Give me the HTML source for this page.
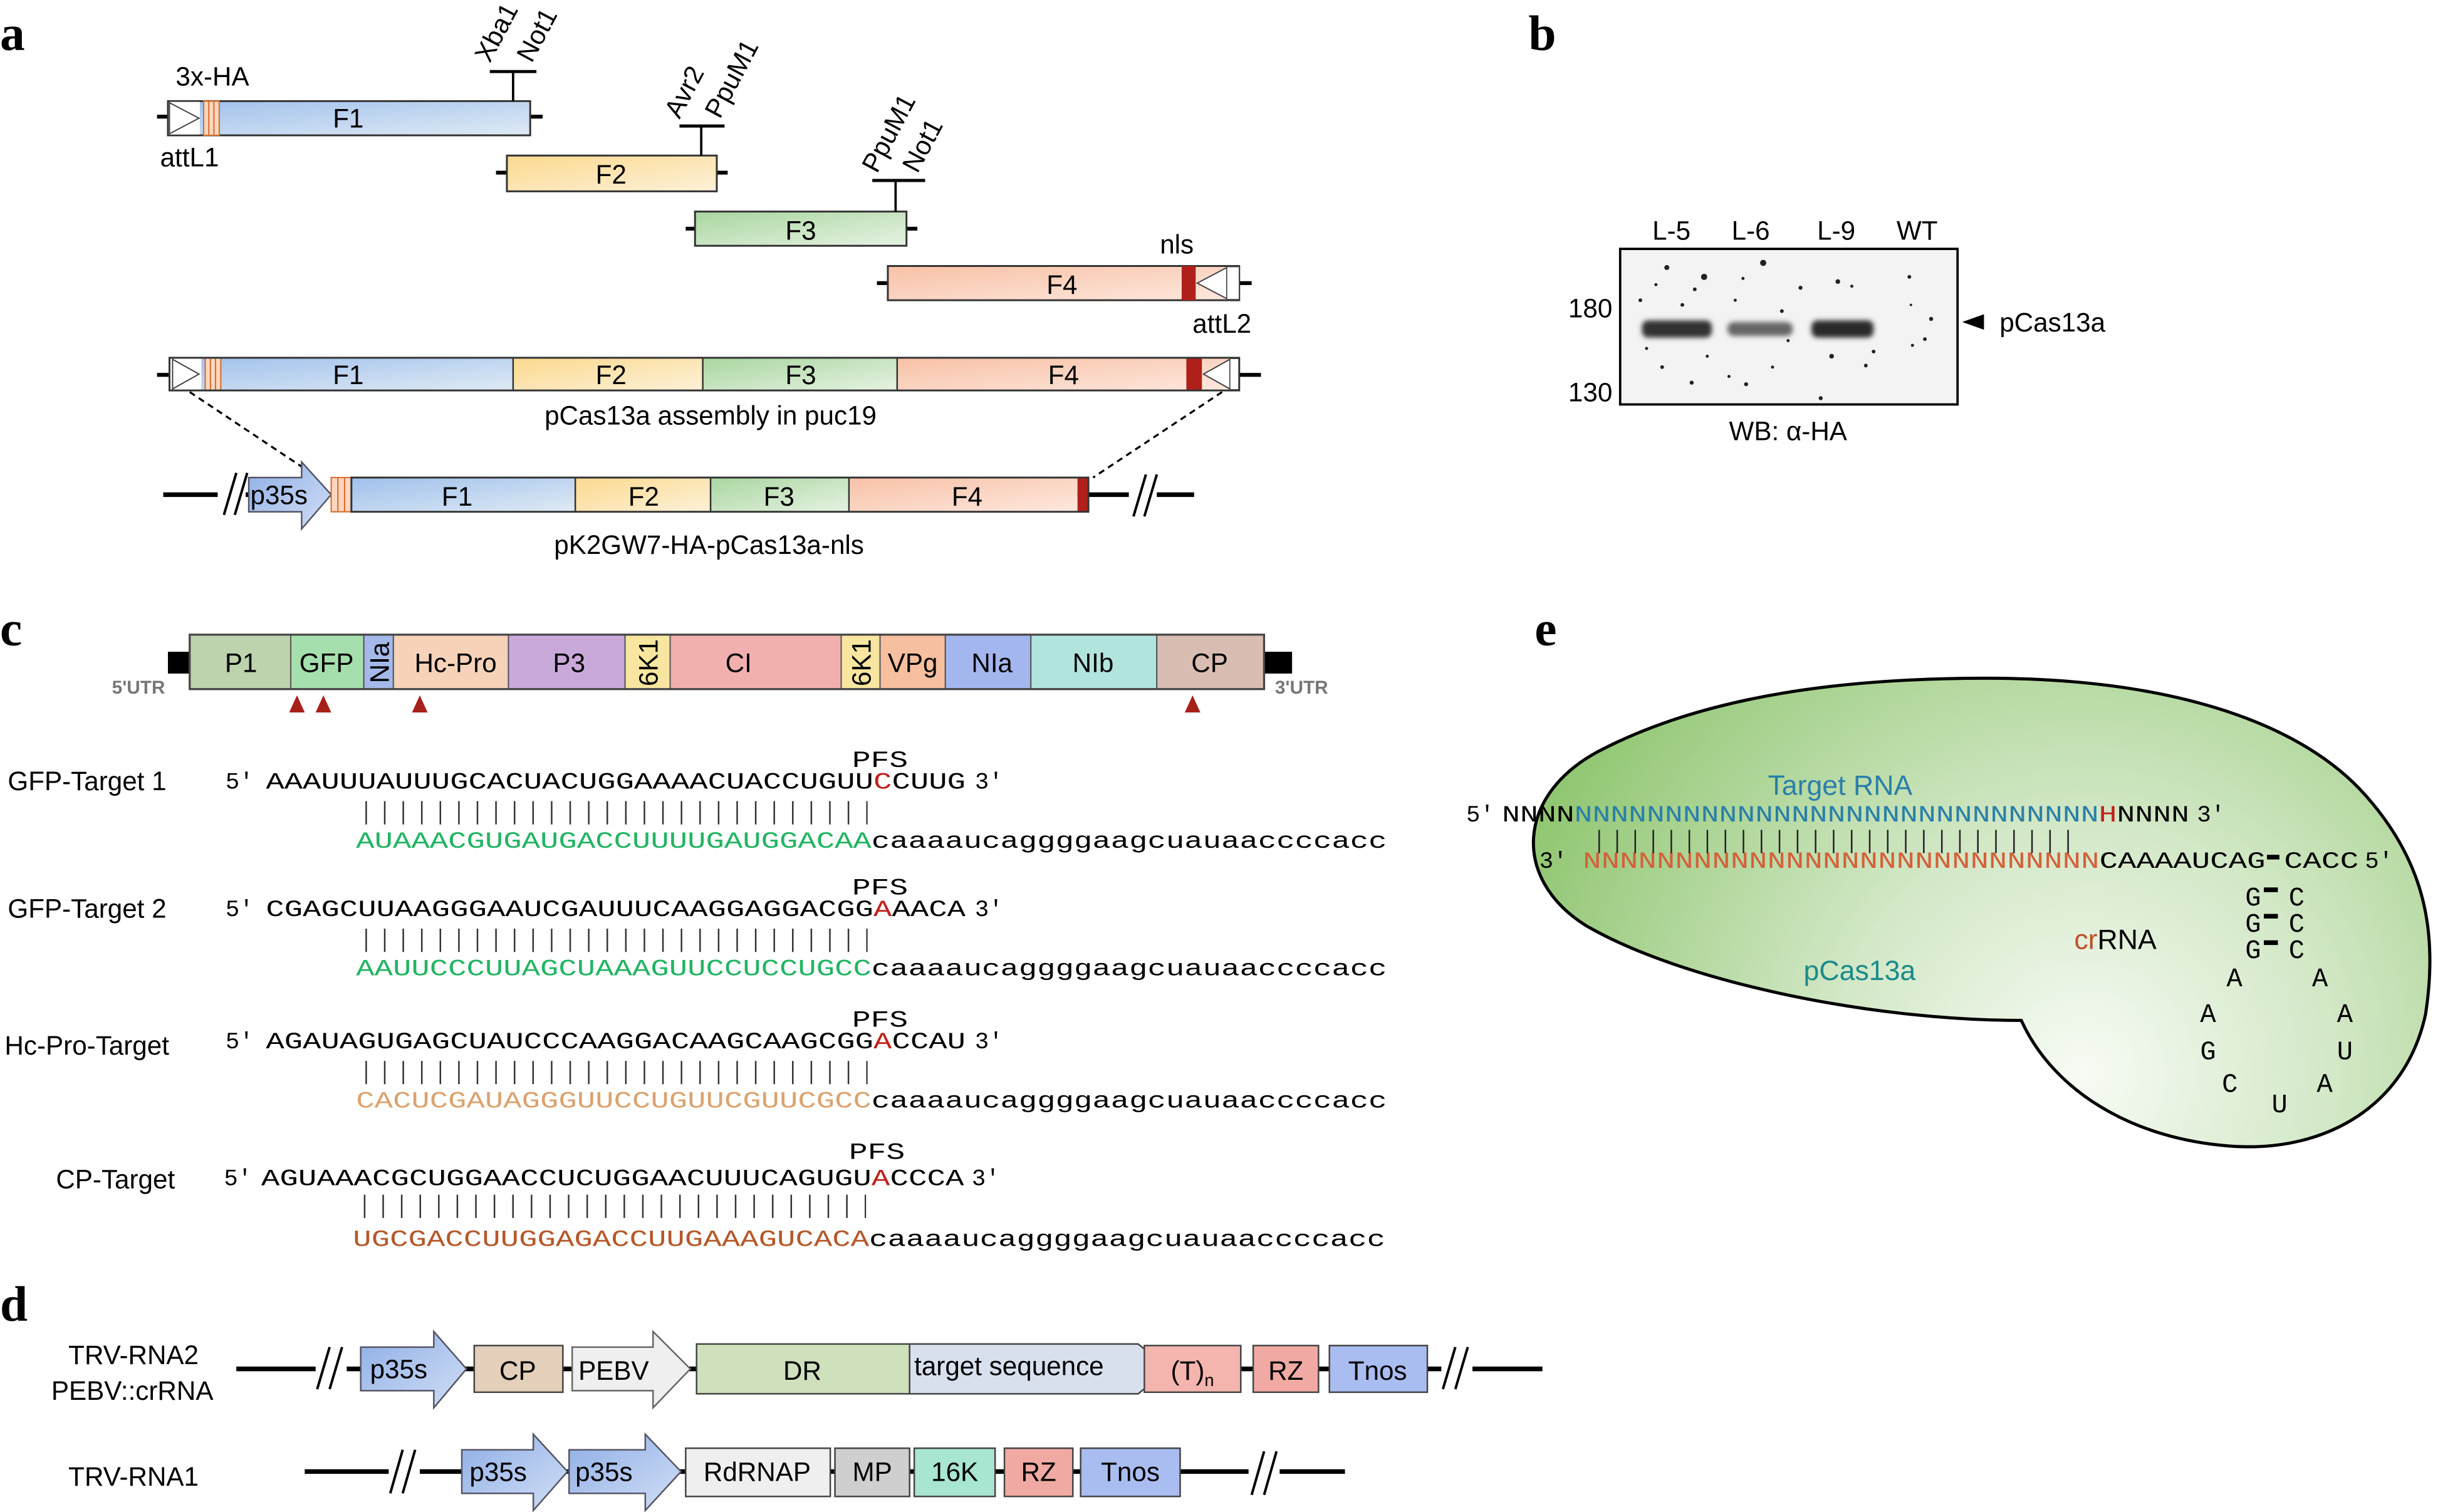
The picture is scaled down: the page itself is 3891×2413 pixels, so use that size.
<!DOCTYPE html>
<html><head><meta charset="utf-8"><style>
html,body{margin:0;padding:0;background:#fff;}
svg{display:block;}
text{font-family:"Liberation Sans",sans-serif;}
.m{font-family:"Liberation Mono","DejaVu Sans Mono",monospace;}
.lbl{font-size:17px;}
</style></head><body>
<svg width="3891" height="2413" viewBox="0 0 1568 972" preserveAspectRatio="none" xmlns="http://www.w3.org/2000/svg">
<defs>
<linearGradient id="gF1" x1="0" y1="0" x2="1" y2="1"><stop offset="0" stop-color="#9fc0ec"/><stop offset="1" stop-color="#dfeaf4"/></linearGradient>
<linearGradient id="gF2" x1="0" y1="0" x2="1" y2="1"><stop offset="0" stop-color="#fbd98e"/><stop offset="1" stop-color="#fdf1d8"/></linearGradient>
<linearGradient id="gF3" x1="0" y1="0" x2="1" y2="1"><stop offset="0" stop-color="#a9d6a0"/><stop offset="1" stop-color="#e6f2e2"/></linearGradient>
<linearGradient id="gF4" x1="0" y1="0" x2="1" y2="1"><stop offset="0" stop-color="#f8c1a6"/><stop offset="1" stop-color="#fde8de"/></linearGradient>
<linearGradient id="gArr" x1="0" y1="0" x2="1" y2="1"><stop offset="0" stop-color="#8eaee6"/><stop offset="1" stop-color="#d2dff5"/></linearGradient>
<radialGradient id="gBlob" cx="1340" cy="690" r="400" gradientUnits="userSpaceOnUse"><stop offset="0" stop-color="#f7fbf4"/><stop offset="0.4" stop-color="#d3e8c7"/><stop offset="1" stop-color="#8cc46c"/></radialGradient>
<filter id="blur" x="-20%" y="-50%" width="140%" height="200%"><feGaussianBlur stdDeviation="1.6"/></filter>
</defs>

<!-- ================= PANEL A ================= -->
<text x="0" y="32" font-weight="bold" font-size="32" style="font-family:'Liberation Serif',serif">a</text>

<line x1="101" y1="75" x2="349" y2="75" stroke="#000" stroke-width="2.5"/>
<rect x="108" y="65" width="233" height="22" fill="url(#gF1)" stroke="#333" stroke-width="1.2"/>
<rect x="108.5" y="65.5" width="20" height="21" fill="#fff" stroke="none"/>
<polygon points="109,66 109,86 128,76" fill="#fff" stroke="#444" stroke-width="0.8"/>
<rect x="131" y="65" width="10" height="22" fill="#fbd7c0" stroke="#d86a2a" stroke-width="0.8"/>
<line x1="134.3" y1="65" x2="134.3" y2="87" stroke="#d86a2a" stroke-width="0.8"/>
<line x1="137.6" y1="65" x2="137.6" y2="87" stroke="#d86a2a" stroke-width="0.8"/>
<text x="224" y="82" text-anchor="middle" class="lbl">F1</text>
<text x="113" y="55" class="lbl" font-size="16">3x-HA</text>
<text x="103" y="107" class="lbl">attL1</text>
<line x1="330" y1="65" x2="330" y2="46" stroke="#000" stroke-width="1.5"/>
<line x1="315" y1="46" x2="345" y2="46" stroke="#000" stroke-width="2"/>
<text transform="translate(315,41) rotate(-62)" class="lbl">Xba1</text>
<text transform="translate(342,41) rotate(-62)" class="lbl">Not1</text>

<line x1="319" y1="111" x2="468" y2="111" stroke="#000" stroke-width="2.5"/>
<rect x="326" y="100" width="135" height="23" fill="url(#gF2)" stroke="#333" stroke-width="1.2"/>
<text x="393" y="118" text-anchor="middle" class="lbl">F2</text>
<line x1="451" y1="100" x2="451" y2="81" stroke="#000" stroke-width="1.5"/>
<line x1="437" y1="81" x2="466" y2="81" stroke="#000" stroke-width="2"/>
<text transform="translate(437,77) rotate(-62)" class="lbl">Avr2</text>
<text transform="translate(463,77) rotate(-62)" class="lbl">PpuM1</text>

<line x1="441" y1="147" x2="590" y2="147" stroke="#000" stroke-width="2.5"/>
<rect x="447" y="136" width="136" height="22" fill="url(#gF3)" stroke="#333" stroke-width="1.2"/>
<text x="515" y="154" text-anchor="middle" class="lbl">F3</text>
<line x1="576" y1="136" x2="576" y2="116" stroke="#000" stroke-width="1.5"/>
<line x1="561" y1="116" x2="595" y2="116" stroke="#000" stroke-width="2"/>
<text transform="translate(564,112) rotate(-62)" class="lbl">PpuM1</text>
<text transform="translate(590,112) rotate(-62)" class="lbl">Not1</text>

<line x1="564" y1="182" x2="805" y2="182" stroke="#000" stroke-width="2.5"/>
<rect x="571" y="171" width="226" height="22" fill="url(#gF4)" stroke="#333" stroke-width="1.2"/>
<rect x="760" y="171" width="9" height="22" fill="#b0201a"/>
<polygon points="789,172 789,192 770,182" fill="#fff" stroke="#444" stroke-width="0.8"/>
<rect x="789" y="171.5" width="8" height="21" fill="#fff" stroke="#444" stroke-width="0.6"/>
<text x="683" y="189" text-anchor="middle" class="lbl">F4</text>
<text x="746" y="163" class="lbl">nls</text>
<text x="767" y="214" class="lbl">attL2</text>

<line x1="101" y1="241" x2="811" y2="241" stroke="#000" stroke-width="2.5"/>
<rect x="109" y="230" width="221" height="21" fill="url(#gF1)"/>
<rect x="330" y="230" width="122" height="21" fill="url(#gF2)"/>
<rect x="452" y="230" width="125" height="21" fill="url(#gF3)"/>
<rect x="577" y="230" width="220" height="21" fill="url(#gF4)"/>
<rect x="109.5" y="230.5" width="20" height="20" fill="#fff"/>
<polygon points="111,231 111,250 128,240.5" fill="#fff" stroke="#444" stroke-width="0.8"/>
<rect x="132" y="230" width="10" height="21" fill="#fbd7c0" stroke="#d86a2a" stroke-width="0.8"/>
<line x1="135.3" y1="230" x2="135.3" y2="251" stroke="#d86a2a" stroke-width="0.8"/>
<line x1="138.6" y1="230" x2="138.6" y2="251" stroke="#d86a2a" stroke-width="0.8"/>
<rect x="763" y="230" width="10" height="21" fill="#b0201a"/>
<polygon points="791,231 791,250 774,240.5" fill="#fff" stroke="#444" stroke-width="0.8"/>
<rect x="791" y="230.5" width="6" height="20" fill="#fff" stroke="#444" stroke-width="0.6"/>
<rect x="109" y="230" width="688" height="21" fill="none" stroke="#333" stroke-width="1.2"/>
<line x1="330" y1="230" x2="330" y2="251" stroke="#333" stroke-width="1"/>
<line x1="452" y1="230" x2="452" y2="251" stroke="#333" stroke-width="1"/>
<line x1="577" y1="230" x2="577" y2="251" stroke="#333" stroke-width="1"/>
<text x="224" y="247" text-anchor="middle" class="lbl">F1</text>
<text x="393" y="247" text-anchor="middle" class="lbl">F2</text>
<text x="515" y="247" text-anchor="middle" class="lbl">F3</text>
<text x="684" y="247" text-anchor="middle" class="lbl">F4</text>
<text x="457" y="273" text-anchor="middle" class="lbl" font-size="16.5">pCas13a assembly in puc19</text>

<line x1="122" y1="252" x2="200" y2="304" stroke="#000" stroke-width="1.3" stroke-dasharray="4,3"/>
<line x1="786" y1="252" x2="703" y2="307" stroke="#000" stroke-width="1.3" stroke-dasharray="4,3"/>

<line x1="105" y1="318" x2="768" y2="318" stroke="#000" stroke-width="3"/>
<rect x="140" y="308" width="18" height="20" fill="#fff"/>
<line x1="144" y1="331" x2="152" y2="304" stroke="#000" stroke-width="1.6"/>
<line x1="151" y1="331" x2="159" y2="304" stroke="#000" stroke-width="1.6"/>
<rect x="726" y="308" width="18" height="20" fill="#fff"/>
<line x1="729" y1="332" x2="737" y2="305" stroke="#000" stroke-width="1.6"/>
<line x1="736" y1="332" x2="744" y2="305" stroke="#000" stroke-width="1.6"/>
<polygon points="160,307 194,307 194,297 213,318 194,340 194,329 160,329" fill="url(#gArr)" stroke="#556" stroke-width="1"/>
<text x="161" y="324" class="lbl">p35s</text>
<rect x="213" y="307" width="13" height="22" fill="#fbd7c0" stroke="#d86a2a" stroke-width="0.8"/>
<line x1="217.3" y1="307" x2="217.3" y2="329" stroke="#d86a2a" stroke-width="0.8"/>
<line x1="221.6" y1="307" x2="221.6" y2="329" stroke="#d86a2a" stroke-width="0.8"/>
<rect x="226" y="307" width="144" height="22" fill="url(#gF1)"/>
<rect x="370" y="307" width="87" height="22" fill="url(#gF2)"/>
<rect x="457" y="307" width="89" height="22" fill="url(#gF3)"/>
<rect x="546" y="307" width="147" height="22" fill="url(#gF4)"/>
<rect x="693" y="307" width="7" height="22" fill="#b0201a"/>
<rect x="226" y="307" width="474" height="22" fill="none" stroke="#333" stroke-width="1.2"/>
<line x1="370" y1="307" x2="370" y2="329" stroke="#333"/>
<line x1="457" y1="307" x2="457" y2="329" stroke="#333"/>
<line x1="546" y1="307" x2="546" y2="329" stroke="#333"/>
<text x="294" y="325" text-anchor="middle" class="lbl">F1</text>
<text x="414" y="325" text-anchor="middle" class="lbl">F2</text>
<text x="501" y="325" text-anchor="middle" class="lbl">F3</text>
<text x="622" y="325" text-anchor="middle" class="lbl">F4</text>
<text x="456" y="356" text-anchor="middle" class="lbl" font-size="16.5">pK2GW7-HA-pCas13a-nls</text>

<!-- ================= PANEL B ================= -->
<text x="983" y="32" font-weight="bold" font-size="32" style="font-family:'Liberation Serif',serif">b</text>
<text x="1075" y="154" text-anchor="middle" class="lbl">L-5</text>
<text x="1126" y="154" text-anchor="middle" class="lbl">L-6</text>
<text x="1181" y="154" text-anchor="middle" class="lbl">L-9</text>
<text x="1233" y="154" text-anchor="middle" class="lbl">WT</text>
<rect x="1042" y="160" width="217" height="100" fill="#f3f3f3" stroke="#000" stroke-width="1.5"/>
<g filter="url(#blur)">
<rect x="1056" y="206" width="45" height="11" rx="4" fill="#333"/>
<rect x="1111" y="207" width="42" height="9" rx="4" fill="#666"/>
<rect x="1165" y="206" width="40" height="11" rx="4" fill="#2a2a2a"/>
</g>
<g fill="#222">
<circle cx="1072" cy="172" r="1.6"/><circle cx="1096" cy="178" r="2"/><circle cx="1134" cy="169" r="2"/>
<circle cx="1158" cy="185" r="1.3"/><circle cx="1182" cy="181" r="1.5"/><circle cx="1228" cy="178" r="1.2"/>
<circle cx="1069" cy="236" r="1.2"/><circle cx="1088" cy="246" r="1.3"/><circle cx="1123" cy="247" r="1.3"/>
<circle cx="1178" cy="229" r="1.5"/><circle cx="1200" cy="235" r="1.2"/><circle cx="1230" cy="222" r="1"/>
<circle cx="1055" cy="193" r="1.2"/><circle cx="1112" cy="242" r="1"/><circle cx="1191" cy="184" r="1"/>
<circle cx="1082" cy="196" r="1.2"/><circle cx="1065" cy="183" r="1"/><circle cx="1171" cy="256" r="1.3"/>
<circle cx="1090" cy="186" r="1.2"/><circle cx="1116" cy="193" r="1"/><circle cx="1146" cy="200" r="1.2"/>
<circle cx="1121" cy="179" r="1"/><circle cx="1205" cy="226" r="1.2"/><circle cx="1238" cy="218" r="1.2"/>
<circle cx="1098" cy="229" r="1"/><circle cx="1140" cy="236" r="1"/><circle cx="1059" cy="224" r="1"/>
<circle cx="1242" cy="205" r="1.3"/><circle cx="1229" cy="196" r="0.8"/><circle cx="1150" cy="219" r="1"/>
</g>
<text x="1037" y="204" text-anchor="end" class="lbl">180</text>
<text x="1037" y="258" text-anchor="end" class="lbl">130</text>
<polygon points="1262,207 1276,202 1276,212" fill="#000"/>
<text x="1286" y="213" class="lbl">pCas13a</text>
<text x="1150" y="283" text-anchor="middle" class="lbl">WB: α-HA</text>

<!-- ================= PANEL C ================= -->
<text x="0" y="415" font-weight="bold" font-size="32" style="font-family:'Liberation Serif',serif">c</text>
<rect x="108" y="419" width="14" height="14" fill="#000"/>
<rect x="813" y="419" width="18" height="14" fill="#000"/>
<g stroke="#555" stroke-width="0.8">
<rect x="122" y="408" width="65" height="35" fill="#bcd3ae"/>
<rect x="187" y="408" width="47" height="35" fill="#a6dfae"/>
<rect x="234" y="408" width="19" height="35" fill="#a4b8ea"/>
<rect x="253" y="408" width="74" height="35" fill="#f6d2b8"/>
<rect x="327" y="408" width="75" height="35" fill="#c9a9da"/>
<rect x="402" y="408" width="29" height="35" fill="#f8e6a0"/>
<rect x="431" y="408" width="110" height="35" fill="#f1b0ad"/>
<rect x="541" y="408" width="25" height="35" fill="#f8e6a0"/>
<rect x="566" y="408" width="42" height="35" fill="#f6bf9f"/>
<rect x="608" y="408" width="55" height="35" fill="#a4b6ee"/>
<rect x="663" y="408" width="81" height="35" fill="#b2e4de"/>
<rect x="744" y="408" width="69" height="35" fill="#d9bdb3"/>
</g>
<rect x="122" y="408" width="691" height="35" fill="none" stroke="#444" stroke-width="1.3"/>
<g class="lbl" font-size="18" text-anchor="middle">
<text x="155" y="432">P1</text>
<text x="210" y="432">GFP</text>
<text x="293" y="432">Hc-Pro</text>
<text x="366" y="432">P3</text>
<text x="475" y="432">CI</text>
<text x="587" y="432">VPg</text>
<text x="638" y="432">NIa</text>
<text x="703" y="432">NIb</text>
<text x="778" y="432">CP</text>
<text transform="translate(250,426) rotate(-90)">NIa</text>
<text transform="translate(423,426) rotate(-90)">6K1</text>
<text transform="translate(560,426) rotate(-90)">6K1</text>
</g>
<text x="72" y="446" font-size="12" fill="#777" font-weight="bold">5'UTR</text>
<text x="820" y="446" font-size="12" fill="#777" font-weight="bold">3'UTR</text>
<g fill="#a8201a">
<polygon points="186,458 196,458 191,447"/>
<polygon points="203,458 213,458 208,447"/>
<polygon points="265,458 275,458 270,447"/>
<polygon points="762,458 772,458 767,447"/>
</g>

<g class="m" font-size="15">
<text x="548" y="493" class="m" textLength="36" lengthAdjust="spacingAndGlyphs">PFS</text>
<text x="145" y="507" class="m">5′</text>
<text x="171" y="507" class="m" textLength="450" lengthAdjust="spacingAndGlyphs">AAAUUUAUUUGCACUACUGGAAAACUACCUGUU<tspan fill="#c0201a">C</tspan>CUUG</text>
<text x="627" y="507" class="m">3′</text>
<text x="229" y="545" class="m" textLength="663" lengthAdjust="spacingAndGlyphs"><tspan fill="#22b463">AUAAACGUGAUGACCUUUUGAUGGACAA</tspan>caaaaucaggggaagcuauaaccccacc</text>
<text x="548" y="575" class="m" textLength="36" lengthAdjust="spacingAndGlyphs">PFS</text>
<text x="145" y="589" class="m">5′</text>
<text x="171" y="589" class="m" textLength="450" lengthAdjust="spacingAndGlyphs">CGAGCUUAAGGGAAUCGAUUUCAAGGAGGACGG<tspan fill="#c0201a">A</tspan>AACA</text>
<text x="627" y="589" class="m">3′</text>
<text x="229" y="627" class="m" textLength="663" lengthAdjust="spacingAndGlyphs"><tspan fill="#22b463">AAUUCCCUUAGCUAAAGUUCCUCCUGCC</tspan>caaaaucaggggaagcuauaaccccacc</text>
<text x="548" y="660" class="m" textLength="36" lengthAdjust="spacingAndGlyphs">PFS</text>
<text x="145" y="674" class="m">5′</text>
<text x="171" y="674" class="m" textLength="450" lengthAdjust="spacingAndGlyphs">AGAUAGUGAGCUAUCCCAAGGACAAGCAAGCGG<tspan fill="#c0201a">A</tspan>CCAU</text>
<text x="627" y="674" class="m">3′</text>
<text x="229" y="712" class="m" textLength="663" lengthAdjust="spacingAndGlyphs"><tspan fill="#dba36e">CACUCGAUAGGGUUCCUGUUCGUUCGCC</tspan>caaaaucaggggaagcuauaaccccacc</text>
<text x="546" y="745" class="m" textLength="36" lengthAdjust="spacingAndGlyphs">PFS</text>
<text x="144" y="762" class="m">5′</text>
<text x="168" y="762" class="m" textLength="452" lengthAdjust="spacingAndGlyphs">AGUAAACGCUGGAACCUCUGGAACUUUCAGUGU<tspan fill="#c0201a">A</tspan>CCCA</text>
<text x="625" y="762" class="m">3′</text>
<text x="227" y="801" class="m" textLength="664" lengthAdjust="spacingAndGlyphs"><tspan fill="#b5582a">UGCGACCUUGGAGACCUUGAAAGUCACA</tspan>caaaaucaggggaagcuauaaccccacc</text>
</g>
<g stroke="#333" stroke-width="15" stroke-dasharray="1 10.93">
<line x1="235" y1="522.5" x2="558" y2="522.5"/>
<line x1="235" y1="604.5" x2="558" y2="604.5"/>
<line x1="235" y1="689.5" x2="558" y2="689.5"/>
<line x1="234" y1="775.5" x2="557" y2="775.5"/>
</g>
<g class="lbl">
<text x="5" y="508">GFP-Target 1</text>
<text x="5" y="590">GFP-Target 2</text>
<text x="3" y="678">Hc-Pro-Target</text>
<text x="36" y="764">CP-Target</text>
</g>

<!-- ================= PANEL D ================= -->
<text x="0" y="849" font-weight="bold" font-size="32" style="font-family:'Liberation Serif',serif">d</text>
<text x="44" y="877" class="lbl">TRV-RNA2</text>
<text x="33" y="900" class="lbl">PEBV::crRNA</text>
<text x="44" y="955" class="lbl">TRV-RNA1</text>
<line x1="152" y1="880" x2="992" y2="880" stroke="#000" stroke-width="3"/>
<rect x="203" y="868" width="20" height="24" fill="#fff"/>
<line x1="204" y1="893" x2="212" y2="866" stroke="#000" stroke-width="1.6"/>
<line x1="212" y1="893" x2="220" y2="866" stroke="#000" stroke-width="1.6"/>
<rect x="927" y="868" width="20" height="24" fill="#fff"/>
<line x1="928" y1="893" x2="936" y2="866" stroke="#000" stroke-width="1.6"/>
<line x1="936" y1="893" x2="944" y2="866" stroke="#000" stroke-width="1.6"/>
<polygon points="232,866 279,866 279,856 300,880 279,905 279,894 232,894" fill="url(#gArr)" stroke="#556"/>
<text x="238" y="886" class="lbl" font-size="18">p35s</text>
<rect x="305" y="865" width="57" height="30" fill="#e3cfba" stroke="#444"/>
<text x="333" y="887" text-anchor="middle" class="lbl" font-size="18">CP</text>
<polygon points="368,866 420,866 420,856 444,880 420,905 420,894 368,894" fill="#efefef" stroke="#666"/>
<text x="372" y="887" class="lbl" font-size="18">PEBV</text>
<rect x="448" y="864" width="137" height="32" fill="#cfe0bd" stroke="#444"/>
<text x="516" y="887" text-anchor="middle" class="lbl" font-size="18">DR</text>
<polygon points="585,864 732,864 752,880 732,896 585,896" fill="#d8e0ee" stroke="#444"/>
<text x="588" y="884" class="lbl" font-size="17">target sequence</text>
<rect x="736" y="865" width="62" height="30" fill="#f3b5ae" stroke="#444"/>
<text x="753" y="887" class="lbl" font-size="18">(T)<tspan font-size="11" dy="4">n</tspan></text>
<rect x="806" y="865" width="42" height="30" fill="#f0aaa3" stroke="#444"/>
<text x="827" y="887" text-anchor="middle" class="lbl" font-size="18">RZ</text>
<rect x="855" y="865" width="63" height="30" fill="#aabdf0" stroke="#444"/>
<text x="886" y="887" text-anchor="middle" class="lbl" font-size="18">Tnos</text>
<line x1="196" y1="946" x2="865" y2="946" stroke="#000" stroke-width="3"/>
<rect x="250" y="934" width="20" height="24" fill="#fff"/>
<line x1="251" y1="960" x2="259" y2="932" stroke="#000" stroke-width="1.6"/>
<line x1="259" y1="960" x2="267" y2="932" stroke="#000" stroke-width="1.6"/>
<rect x="803" y="934" width="20" height="24" fill="#fff"/>
<line x1="805" y1="961" x2="813" y2="933" stroke="#000" stroke-width="1.6"/>
<line x1="813" y1="961" x2="821" y2="933" stroke="#000" stroke-width="1.6"/>
<polygon points="297,932 343,932 343,922 365,946 343,971 343,960 297,960" fill="url(#gArr)" stroke="#556"/>
<text x="302" y="952" class="lbl" font-size="18">p35s</text>
<polygon points="366,932 415,932 415,922 438,946 415,971 415,960 366,960" fill="url(#gArr)" stroke="#556"/>
<text x="370" y="952" class="lbl" font-size="18">p35s</text>
<rect x="441" y="931" width="93" height="31" fill="#efefef" stroke="#444"/>
<text x="487" y="952" text-anchor="middle" class="lbl" font-size="18">RdRNAP</text>
<rect x="537" y="931" width="48" height="31" fill="#cfcfcf" stroke="#444"/>
<text x="561" y="952" text-anchor="middle" class="lbl" font-size="18">MP</text>
<rect x="588" y="931" width="52" height="31" fill="#a8e6d2" stroke="#444"/>
<text x="614" y="952" text-anchor="middle" class="lbl" font-size="18">16K</text>
<rect x="646" y="931" width="44" height="31" fill="#f0aaa3" stroke="#444"/>
<text x="668" y="952" text-anchor="middle" class="lbl" font-size="18">RZ</text>
<rect x="695" y="931" width="64" height="31" fill="#aabdf0" stroke="#444"/>
<text x="727" y="952" text-anchor="middle" class="lbl" font-size="18">Tnos</text>

<!-- ================= PANEL E ================= -->
<text x="987" y="415" font-weight="bold" font-size="32" style="font-family:'Liberation Serif',serif">e</text>
<path d="M1300,656 C1200,656 1080,630 1020,595 C972,565 975,510 1030,482 C1100,446 1190,436 1277,436 C1400,436 1482,466 1522,512 C1560,555 1568,600 1560,652 C1547,712 1495,740 1438,737 C1370,733 1320,700 1300,656 Z" fill="url(#gBlob)" stroke="#000" stroke-width="2"/>
<text x="1137" y="511" font-size="18" fill="#2a7fa8">Target RNA</text>
<g class="m" font-size="15">
<text x="943" y="528" class="m">5′</text>
<text x="966" y="528" class="m" textLength="442" lengthAdjust="spacingAndGlyphs">NNNN<tspan fill="#2a7fa8">NNNNNNNNNNNNNNNNNNNNNNNNNNNNN</tspan><tspan fill="#c0201a">H</tspan>NNNN</text>
<text x="1413" y="528" class="m">3′</text>
<text x="990" y="558" class="m">3′</text>
<text x="1018" y="558" class="m" textLength="439" lengthAdjust="spacingAndGlyphs"><tspan fill="#d4603a">NNNNNNNNNNNNNNNNNNNNNNNNNNNN</tspan>CAAAAUCAG</text>
<text x="1469" y="558" class="m" textLength="48" lengthAdjust="spacingAndGlyphs">CACC</text>
<text x="1521" y="558" class="m">5′</text>
</g>
<g class="m" font-size="17">
<text x="1444" y="582" class="m">G</text><text x="1472" y="582" class="m">C</text>
<text x="1444" y="599" class="m">G</text><text x="1472" y="599" class="m">C</text>
<text x="1444" y="616" class="m">G</text><text x="1472" y="616" class="m">C</text>
<text x="1432" y="634" class="m">A</text><text x="1487" y="634" class="m">A</text>
<text x="1415" y="657" class="m">A</text><text x="1503" y="657" class="m">A</text>
<text x="1415" y="681" class="m">G</text><text x="1503" y="681" class="m">U</text>
<text x="1429" y="702" class="m">C</text><text x="1490" y="702" class="m">A</text>
<text x="1461" y="715" class="m">U</text>
</g>
<g stroke="#000" stroke-width="3">
<line x1="1458" y1="551" x2="1466" y2="551"/>
<line x1="1456" y1="572" x2="1465" y2="572"/>
<line x1="1456" y1="589" x2="1465" y2="589"/>
<line x1="1456" y1="606" x2="1465" y2="606"/>
</g>
<line x1="1028" y1="541" x2="1341" y2="541" stroke="#222" stroke-width="15" stroke-dasharray="1 10.6"/>
<text x="1334" y="610" font-size="18"><tspan fill="#c0502a">cr</tspan>RNA</text>
<text x="1160" y="630" font-size="18" fill="#1a8a8a">pCas13a</text>
</svg>
</body></html>
